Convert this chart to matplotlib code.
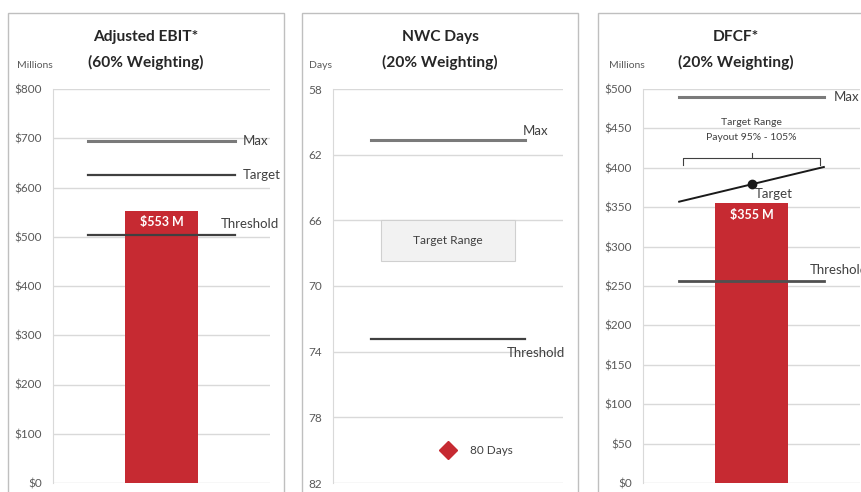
import matplotlib
matplotlib.use("Agg")
import matplotlib.pyplot as plt
from matplotlib.patches import Rectangle
from matplotlib.ticker import FuncFormatter

plt.rcParams['font.family'] = ['Lato', 'DejaVu Sans']

# Adjusted EBIT ($M)
ebit_actual = 553
ebit_max = 694
ebit_target = 625
ebit_threshold = 503
ebit_ticks = [0, 100, 200, 300, 400, 500, 600, 700, 800]

# NWC days (axis runs top-down)
nwc_actual = 80
nwc_max = 61.1
nwc_threshold = 73.2
nwc_range = [66, 68.5]
nwc_ticks = [58, 62, 66, 70, 74, 78, 82]

# DFCF ($M)
dfcf_actual = 355
dfcf_max = 490
dfcf_threshold = 256
dfcf_target = 380
dfcf_slope = [357, 401]
dfcf_brace = [403, 412, 419]
dfcf_ticks = [0, 50, 100, 150, 200, 250, 300, 350, 400, 450, 500]

W, H = 861, 492
RED = "#c62a32"
GRID = "#d9d9d9"
DARK = "#404040"
MAXC = "#7a7a7a"
LBL = 9.5


def fx(px):
    return px / W


def fy(py):
    return 1 - py / H


def make_axes(fig, left, right, top, bottom):
    ax = fig.add_axes([fx(left), fy(bottom), fx(right - left), (bottom - top) / H])
    ax.set_xlim(-1.5, 1.5)
    ax.set_xticks([])
    for s in ["top", "right", "bottom"]:
        ax.spines[s].set_visible(False)
    ax.spines["left"].set_color(GRID)
    ax.yaxis.grid(True, color=GRID, linewidth=1)
    ax.set_axisbelow(True)
    ax.tick_params(axis="y", length=0, pad=8, labelsize=8.5, labelcolor="#595959")
    ax.patch.set_alpha(0)
    return ax


def panel_frame(fig, left, right):
    fig.patches.append(Rectangle((fx(left), fy(520)), fx(right - left), (520 - 13) / H,
                                 transform=fig.transFigure, fill=False,
                                 edgecolor="#bfbfbf", linewidth=1))


def titles(fig, cx, line1, line2, unit, ux):
    fig.text(fx(cx), fy(37), line1, ha="center", va="center", fontsize=11.2,
             fontweight="bold", color="#262626")
    fig.text(fx(cx), fy(62), line2, ha="center", va="center", fontsize=11.2,
             fontweight="bold", color="#262626")
    fig.text(fx(ux), fy(65), unit, ha="center", va="center", fontsize=7.5, color="#595959")


dollars = FuncFormatter(lambda v, p: "${:,.0f}".format(v))

fig = plt.figure(figsize=(W / 100, H / 100), dpi=100)

# ---- panel 1
panel_frame(fig, 8, 284)
titles(fig, 146, "Adjusted EBIT*", "(60% Weighting)", "Millions", 35)
ax1 = make_axes(fig, 53, 270, 89, 483)
ax1.set_ylim(0, 800)
ax1.set_yticks(ebit_ticks)
ax1.yaxis.set_major_formatter(dollars)
ax1.bar([0], [ebit_actual], width=1.0, color=RED, zorder=2)
ax1.plot([-1.02, 1.02], [ebit_max] * 2, color=MAXC, lw=2.2, zorder=3)
ax1.plot([-1.02, 1.02], [ebit_target] * 2, color=DARK, lw=1.6, zorder=3)
ax1.plot([-1.02, 1.02], [ebit_threshold] * 2, color=DARK, lw=1.6, zorder=3)
ax1.text(1.13, ebit_max, "Max", va="center", fontsize=LBL, color=DARK)
ax1.text(1.13, ebit_target, "Target", va="center", fontsize=LBL, color=DARK)
ax1.text(0.82, ebit_threshold + 23, "Threshold", va="center", fontsize=LBL, color=DARK)
ax1.text(0, ebit_actual - 23, "${} M".format(ebit_actual), ha="center", va="center",
         fontsize=9, fontweight="bold", color="white", zorder=4)

# ---- panel 2
panel_frame(fig, 302, 578)
titles(fig, 440, "NWC Days", "(20% Weighting)", "Days", 320)
ax2 = make_axes(fig, 333, 563, 89, 483)
ax2.set_ylim(82, 58)
ax2.set_yticks(nwc_ticks)
ax2.plot([-1.0, 1.0], [nwc_max] * 2, color=MAXC, lw=2.2, zorder=3)
ax2.plot([-1.0, 1.0], [nwc_threshold] * 2, color=DARK, lw=1.6, zorder=3)
ax2.text(0.98, nwc_max - 0.55, "Max", va="center", fontsize=LBL, color=DARK)
ax2.text(0.76, nwc_threshold + 0.9, "Threshold", va="center", fontsize=LBL, color=DARK)
ax2.add_patch(Rectangle((-0.87, nwc_range[0]), 1.74, nwc_range[1] - nwc_range[0],
                        facecolor="#f2f2f2", edgecolor="#d0d0d0", lw=0.8, zorder=2))
ax2.text(0, sum(nwc_range) / 2, "Target Range", ha="center", va="center",
         fontsize=8.6, color=DARK, zorder=3)
ax2.plot([0], [nwc_actual], marker="D", markersize=9, color=RED, linestyle="none", zorder=3)
ax2.text(0.29, nwc_actual, "{} Days".format(nwc_actual), va="center", fontsize=8.5, color=DARK)

# ---- panel 3
panel_frame(fig, 598, 920)
titles(fig, 736, "DFCF*", "(20% Weighting)", "Millions", 627)
ax3 = make_axes(fig, 643, 860, 89, 483)
ax3.set_ylim(0, 500)
ax3.set_yticks(dfcf_ticks)
ax3.yaxis.set_major_formatter(dollars)
ax3.bar([0], [dfcf_actual], width=1.0, color=RED, zorder=2)
ax3.plot([-1.0, 1.0], [dfcf_max] * 2, color=MAXC, lw=2.2, zorder=3)
ax3.plot([-1.0, 1.0], [dfcf_threshold] * 2, color="#505050", lw=2.0, zorder=3)
ax3.plot([-1.0, 1.0], dfcf_slope, color="#1a1a1a", lw=1.4, zorder=3)
ax3.plot([0], [dfcf_target], marker="o", markersize=6, color="#1a1a1a", zorder=4)
ax3.plot([-0.95, -0.95, 0.95, 0.95], [dfcf_brace[0], dfcf_brace[1], dfcf_brace[1], dfcf_brace[0]],
         color="#404040", lw=0.8, zorder=3)
ax3.plot([0, 0], dfcf_brace[1:], color="#404040", lw=0.8, zorder=3)
ax3.text(0, 458, "Target Range", ha="center", va="center", fontsize=7.5, color=DARK)
ax3.text(0, 438, "Payout 95% - 105%", ha="center", va="center", fontsize=7.5, color=DARK)
ax3.text(0.05, dfcf_target - 13, "Target", va="center", fontsize=LBL, color=DARK)
ax3.text(1.14, dfcf_max, "Max", va="center", fontsize=LBL, color=DARK, clip_on=False)
ax3.text(0.81, dfcf_threshold + 14, "Threshold", va="center", fontsize=LBL, color=DARK)
ax3.text(0, dfcf_actual - 15, "${} M".format(dfcf_actual), ha="center", va="center",
         fontsize=9, fontweight="bold", color="white", zorder=4)

fig.savefig("out.png", dpi=100)
